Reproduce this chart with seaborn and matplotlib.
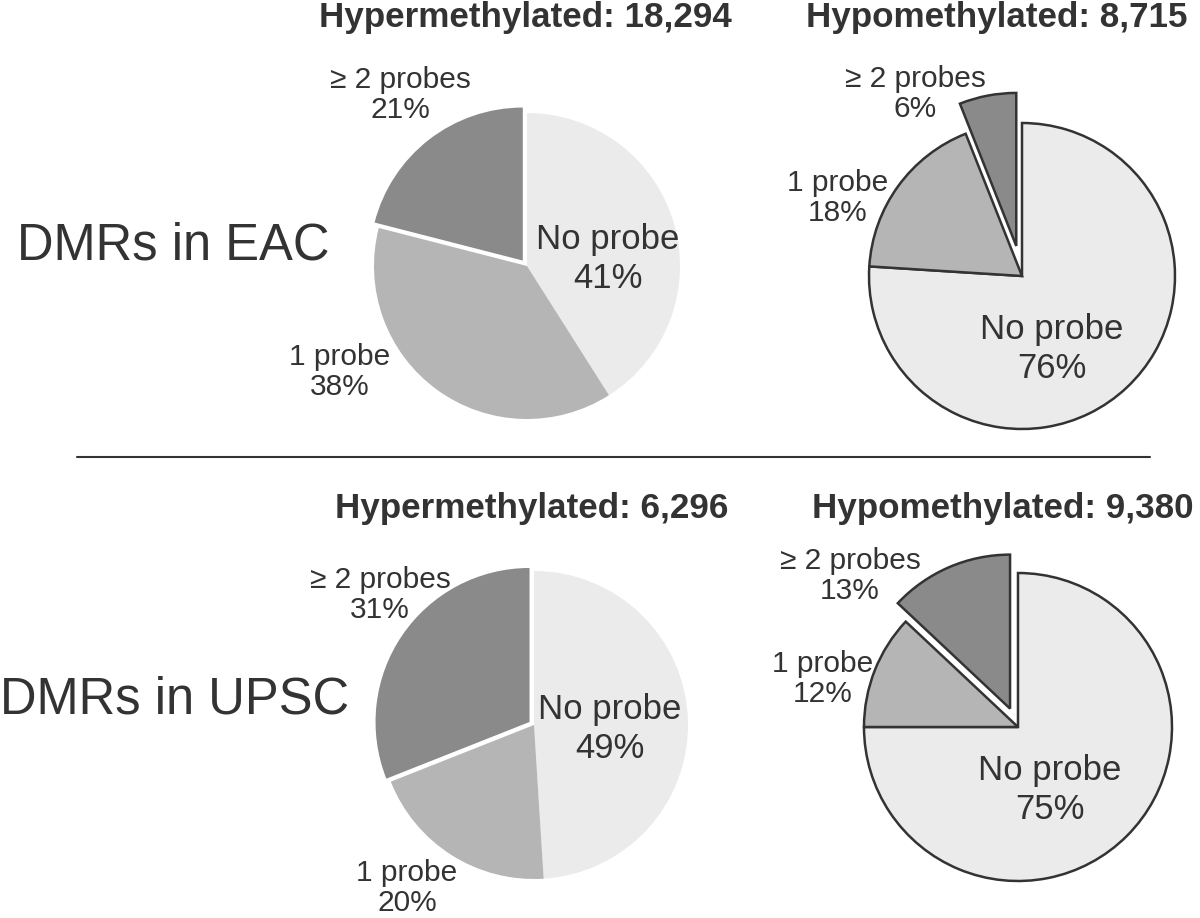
import seaborn as sns
import matplotlib.pyplot as plt

# data
categories = ["No probe", "1 probe", "\u2265 2 probes"]
eac_hyper = [41, 38, 21]
eac_hypo = [76, 18, 6]
upsc_hyper = [49, 20, 31]
upsc_hypo = [75, 12, 13]
totals = [18294, 8715, 6296, 9380]
groups = ["Hypermethylated", "Hypomethylated", "Hypermethylated", "Hypomethylated"]
rows = ["DMRs in EAC", "DMRs in UPSC"]

sns.set_theme(style="white")
plt.rcParams['font.family'] = ['Liberation Sans', 'DejaVu Sans']

W, H = 1200, 918
palette = sns.color_palette(["#ebebeb", "#b5b5b5", "#8a8a8a"])
txt = "#333333"

fig = plt.figure(figsize=(W / 100, H / 100), dpi=100)
ax = fig.add_axes([0, 0, 1, 1])

# layout in pixels (y measured from top)
centers = [(527, 266), (1022, 276), (534, 725), (1018, 727)]
radii = [153, 153, 154, 154]
explodes = [0.045, 0.2, 0.035, 0.13]   # fraction of radius
outlined = [False, True, False, True]
label_pos = [
    [(608, 259), (340, 372), (400, 95)],
    [(1052, 349), (838, 198), (915, 94)],
    [(610, 729), (407, 888), (380, 595)],
    [(1050, 790), (823, 679), (850, 576)],
]
title_pos = [(525, 27), (997, 27), (532, 518), (1003, 518)]
row_pos = [(17, 246), (0, 700)]

data = [eac_hyper, eac_hypo, upsc_hyper, upsc_hypo]
for i, vals in enumerate(data):
    cx, cy = centers[i]
    r = radii[i]
    wp = dict(linewidth=1.8, edgecolor="#333333") if outlined[i] else dict(linewidth=0)
    ax.pie(vals, colors=palette, startangle=90, counterclock=False,
           explode=[0, 0, explodes[i] * r], center=(cx, H - cy), radius=r,
           wedgeprops=wp)
    for j, (cat, v) in enumerate(zip(categories, vals)):
        lx, ly = label_pos[i][j]
        inner = j == 0
        ax.text(lx, H - ly, f"{cat}\n{v}%", ha="center", va="center",
                fontsize=25 if inner else 21.5, color=txt,
                linespacing=1.2 if inner else 1.1)
    tx, ty = title_pos[i]
    ax.text(tx, H - ty, f"{groups[i]}: {totals[i]:,}", ha="center", va="baseline",
            fontsize=25.2, fontweight="bold", color=txt)

for (rx, ry), name in zip(row_pos, rows):
    ax.text(rx, H - ry, name, ha="left", va="center", fontsize=36.5, color=txt)

ax.plot([77, 1150], [H - 457, H - 457], color=txt, linewidth=1.5)

ax.set_xlim(0, W)
ax.set_ylim(0, H)
ax.set_aspect("equal")
ax.axis("off")

fig.savefig("out.png", dpi=100)
